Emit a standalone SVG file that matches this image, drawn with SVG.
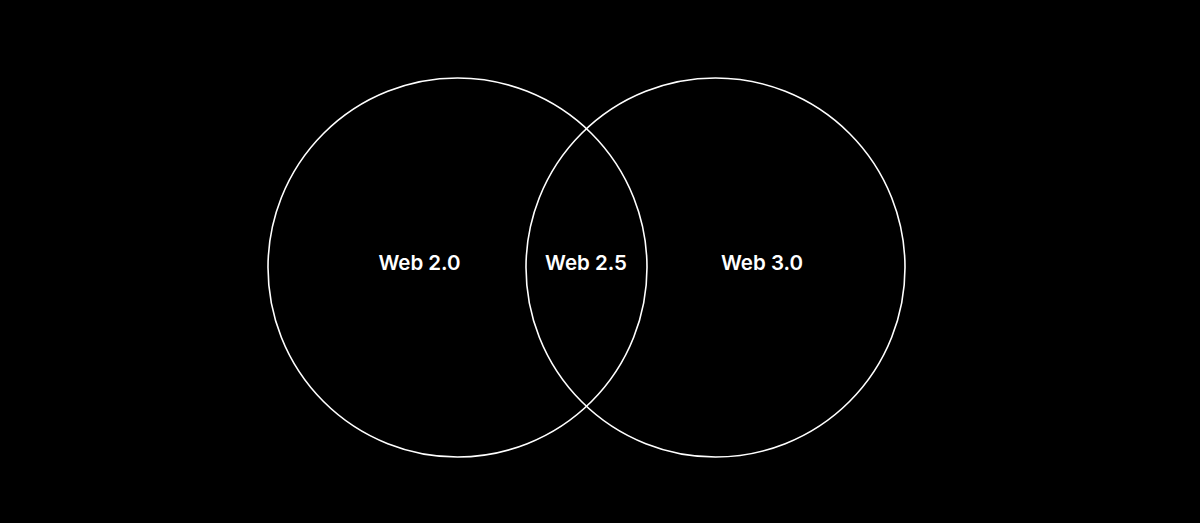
<svg xmlns="http://www.w3.org/2000/svg" width="1200" height="523" viewBox="0 0 1200 523">
<style>
.c{fill:none;stroke:#ffffff;stroke-width:1.6}
.t{fill:#ffffff;font-family:Inter,"Liberation Sans",sans-serif;font-weight:600;font-size:20.5px;text-anchor:middle}
</style>
<rect width="1200" height="523" fill="#000000"/>
<g id="web20"><circle class="c" cx="457.5" cy="267.5" r="189.5"/><text class="t" x="419.5" y="270">Web 2.0</text></g>
<g id="web30"><circle class="c" cx="715.5" cy="267.5" r="189.5"/><text class="t" x="762" y="270">Web 3.0</text></g>
<g id="web25"><text class="t" x="586" y="270">Web 2.5</text></g>
<g id="connectors"></g>
</svg>
